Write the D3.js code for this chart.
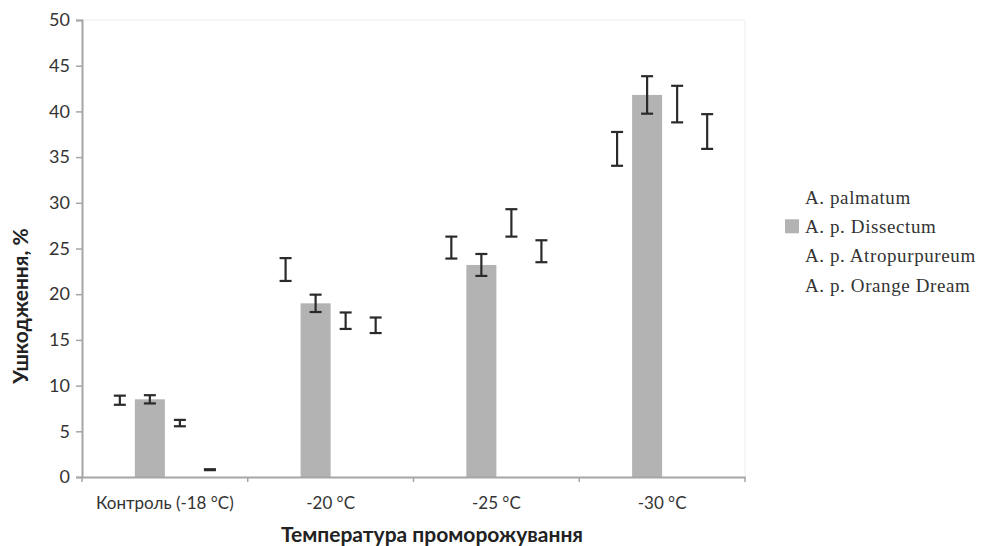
<!DOCTYPE html>
<html>
<head>
<meta charset="utf-8">
<script src="https://cdn.jsdelivr.net/npm/d3@7"></script>
<style>
  body { margin: 0; background: #fff; }
  svg { display: block; }
</style>
</head>
<body>
<div id="chart"></div>
<script>
// Chart data
var categories = ["Контроль (-18 °C)", "-20 °C", "-25 °C", "-30 °C"];
var seriesNames = ["A. palmatum", "A. p. Dissectum", "A. p. Atropurpureum", "A. p. Orange Dream"];
var palmatum  = [8.4, 22.7, 25.1, 35.9];
var dissectum = [8.5, 19.0, 23.2, 41.8];
var atro      = [5.9, 17.1, 27.8, 40.8];
var orange    = [0.8, 16.6, 24.7, 37.8];
var palmatumErr  = [0.5, 1.25, 1.2, 1.85];
var dissectumErr = [0.45, 0.95, 1.2, 2.05];
var atroErr      = [0.35, 0.9, 1.5, 2.0];
var orangeErr    = [0.05, 0.85, 1.2, 1.9];
var yTicks = [0, 5, 10, 15, 20, 25, 30, 35, 40, 45, 50];

var values = [palmatum, dissectum, atro, orange];
var errors = [palmatumErr, dissectumErr, atroErr, orangeErr];
var fills = ["none", "#b3b3b3", "none", "none"];

var width = 986,
    height = 546,
    margin = {top: 20, left: 82, right: 241, bottom: 69},
    plotW = width - margin.left - margin.right,
    plotH = height - margin.top - margin.bottom;

var sans = "Lato, 'Open Sans', sans-serif";

var svg = d3.select("#chart").append("svg")
    .attr("width", width)
    .attr("height", height);

var x0 = d3.scaleBand()
    .domain(categories)
    .range([margin.left, margin.left + plotW])
    .paddingInner(0)
    .paddingOuter(0);

var x1 = d3.scaleBand()
    .domain(d3.range(seriesNames.length))
    .range([0, x0.bandwidth()])
    .paddingInner(0)
    .paddingOuter(0.76);

var y = d3.scaleLinear()
    .domain([0, 50])
    .range([margin.top + plotH, margin.top]);

// faint plot-area border (top and right)
svg.append("path")
    .attr("d", "M" + margin.left + "," + margin.top + "H" + (margin.left + plotW) + "V" + (margin.top + plotH))
    .attr("fill", "none")
    .attr("stroke", "#ececec")
    .attr("stroke-width", 1);

// flatten series into bar records
var bars = [];
categories.forEach(function(c, i) {
  values.forEach(function(s, j) {
    bars.push({cat: c, s: j, v: s[i], e: errors[j][i]});
  });
});

// bars
svg.append("g").selectAll("rect")
    .data(bars.filter(function(d) { return fills[d.s] !== "none"; }))
  .enter().append("rect")
    .attr("x", function(d) { return x0(d.cat) + x1(d.s); })
    .attr("y", function(d) { return y(d.v); })
    .attr("width", x1.bandwidth())
    .attr("height", function(d) { return y(0) - y(d.v); })
    .attr("fill", function(d) { return fills[d.s]; });

// axes
var yAxis = svg.append("g")
    .attr("transform", "translate(" + margin.left + ",0)")
    .call(d3.axisLeft(y).tickValues(yTicks).tickSize(6).tickPadding(6));
yAxis.select(".domain").attr("stroke", "#a6a6a6").attr("stroke-width", 2);
yAxis.selectAll(".tick line").attr("stroke", "#a6a6a6").attr("stroke-width", 1.5);
yAxis.selectAll("text")
    .attr("fill", "#333")
    .style("font-family", sans)
    .style("font-size", "18px");

var xAxis = svg.append("g")
    .attr("transform", "translate(0," + (margin.top + plotH) + ")")
    .call(d3.axisBottom(x0).tickSize(0).tickPadding(20));
xAxis.select(".domain").attr("stroke", "#a6a6a6").attr("stroke-width", 2);
xAxis.selectAll("text")
    .attr("fill", "#333")
    .style("font-family", sans)
    .style("font-size", "17px");

// category separator ticks
svg.append("g").selectAll("line")
    .data(categories.concat(["end"]))
  .enter().append("line")
    .attr("x1", function(d, i) { return margin.left + i * x0.step(); })
    .attr("x2", function(d, i) { return margin.left + i * x0.step(); })
    .attr("y1", margin.top + plotH)
    .attr("y2", margin.top + plotH + 5)
    .attr("stroke", "#a6a6a6")
    .attr("stroke-width", 1.5);

// error bars
var eb = svg.append("g").selectAll("g.err")
    .data(bars)
  .enter().append("g")
    .attr("class", "err")
    .attr("stroke", "#2a2a2a")
    .attr("stroke-width", 2.2);

function cx(d) { return x0(d.cat) + x1(d.s) + x1.bandwidth() / 2; }
var cap = 6;

eb.append("line")
    .attr("x1", cx).attr("x2", cx)
    .attr("y1", function(d) { return y(d.v + d.e); })
    .attr("y2", function(d) { return y(d.v - d.e); });
eb.append("line")
    .attr("x1", function(d) { return cx(d) - cap; })
    .attr("x2", function(d) { return cx(d) + cap; })
    .attr("y1", function(d) { return y(d.v + d.e); })
    .attr("y2", function(d) { return y(d.v + d.e); });
eb.append("line")
    .attr("x1", function(d) { return cx(d) - cap; })
    .attr("x2", function(d) { return cx(d) + cap; })
    .attr("y1", function(d) { return y(d.v - d.e); })
    .attr("y2", function(d) { return y(d.v - d.e); });

// axis titles
svg.append("text")
    .attr("transform", "translate(28,306) rotate(-90)")
    .attr("text-anchor", "middle")
    .style("font-family", sans)
    .style("font-weight", "bold")
    .style("font-size", "21px")
    .attr("fill", "#222")
    .text("Ушкодження, %");

svg.append("text")
    .attr("x", 432)
    .attr("y", 542)
    .attr("text-anchor", "middle")
    .style("font-family", sans)
    .style("font-weight", "bold")
    .style("font-size", "21px")
    .attr("fill", "#222")
    .text("Температура проморожування");

// legend
var legend = svg.append("g").selectAll("g")
    .data(seriesNames)
  .enter().append("g")
    .attr("transform", function(d, i) { return "translate(785," + (197 + i * 29.3) + ")"; });

legend.append("rect")
    .attr("x", 0).attr("y", -7)
    .attr("width", 14).attr("height", 14)
    .attr("fill", function(d, i) { return fills[i] === "none" ? "none" : fills[i]; });

legend.append("text")
    .attr("x", 20)
    .attr("dy", "0.35em")
    .style("font-family", "'Liberation Serif', 'Times New Roman', serif")
    .style("font-size", "19px")
    .style("letter-spacing", "0.6px")
    .attr("fill", "#333")
    .text(function(d) { return d; });
</script>
</body>
</html>
